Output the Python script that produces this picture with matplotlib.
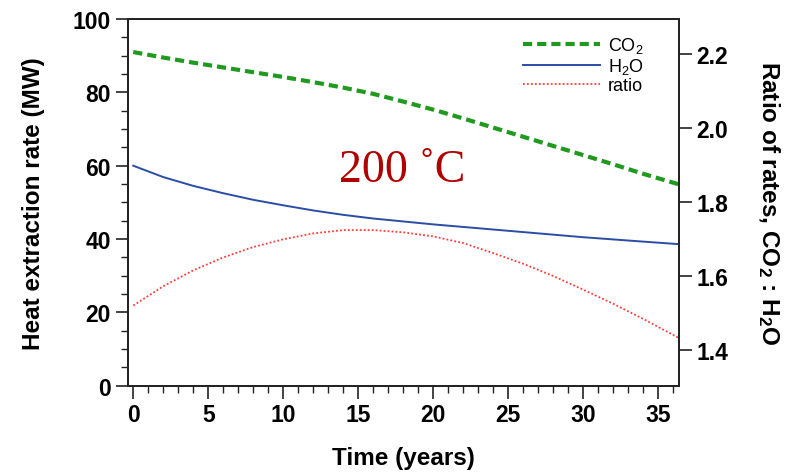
import numpy as np
import matplotlib
matplotlib.use('Agg')
import matplotlib.pyplot as plt
from matplotlib.ticker import MultipleLocator

plt.rcParams['font.family'] = ['Liberation Sans', 'DejaVu Sans']
plt.rcParams['mathtext.fontset'] = 'custom'
plt.rcParams['mathtext.rm'] = 'Liberation Sans'
plt.rcParams['mathtext.bf'] = 'Liberation Sans:bold'
plt.rcParams['mathtext.default'] = 'regular'

# values
years = [0, 2, 4, 6, 8, 10, 12, 14, 16, 18, 20, 22, 24, 26, 28, 30, 32, 34, 36.4]
co2 = [91.0, 89.5, 88.1, 86.8, 85.5, 84.2, 82.8, 81.3, 79.6, 77.5, 75.3,
       72.9, 70.4, 67.9, 65.4, 62.9, 60.4, 57.8, 54.9]
h2o = [60.0, 56.9, 54.5, 52.5, 50.7, 49.2, 47.8, 46.6, 45.6, 44.8, 44.0,
       43.3, 42.6, 41.9, 41.2, 40.5, 39.9, 39.3, 38.6]
ratio = [1.520, 1.572, 1.615, 1.650, 1.678, 1.699, 1.715, 1.724, 1.724, 1.718,
         1.707, 1.689, 1.662, 1.633, 1.600, 1.563, 1.525, 1.484, 1.432]

fig = plt.figure(figsize=(7.98, 4.77), dpi=100)
ax = fig.add_axes([0.1604, 0.1893, 0.6905, 0.7687])
ax2 = ax.twinx()

l1, = ax.plot(years, co2, color='#1f9a1f', lw=3, ls=(0, (2.2, 1.2)), label='CO$_2$')
l2, = ax.plot(years, h2o, color='#2a4ea6', lw=1.4, label='H$_2$O')
l3, = ax2.plot(years, ratio, color='#ff3b3b', lw=1.3, ls=(0, (1, 1.2)), label='ratio')

ax.set_xlim(-0.35, 36.4)
ax.set_ylim(0, 100)
ax2.set_ylim(1.303, 2.295)

ax.xaxis.set_major_locator(MultipleLocator(5))
ax.xaxis.set_minor_locator(MultipleLocator(1))
ax.yaxis.set_major_locator(MultipleLocator(20))
ax.yaxis.set_minor_locator(MultipleLocator(5))
ax2.set_yticks([1.4, 1.6, 1.8, 2.0, 2.2])
ax2.set_yticklabels(['1.4', '1.6', '1.8', '2.0', '2.2'])

for a in (ax, ax2):
    for s in a.spines.values():
        s.set_linewidth(1.3)
        s.set_color('#222222')
    a.tick_params(which='major', length=9, width=1.2, labelsize=16.5, color='#222222')
    a.tick_params(which='minor', length=5, width=1.0, color='#222222')
    for lab in a.get_xticklabels() + a.get_yticklabels():
        lab.set_fontweight('bold')

ax.set_xlabel('Time (years)', fontsize=17.5, fontweight='bold', labelpad=14)
ax.set_ylabel('Heat extraction rate (MW)', fontsize=17.5, fontweight='bold', labelpad=20)
ax2.set_ylabel(r'Ratio of rates, CO$_\mathbf{2}$ : H$_\mathbf{2}$O', fontsize=17.5,
               fontweight='bold', rotation=270, va='bottom', labelpad=20)

ax.text(13.75, 59.0, '200 ˚C', fontsize=33, color='#b00000', va='center',
        family=['Liberation Serif', 'DejaVu Serif'])

ax.legend(handles=[l1, l2, l3], loc='upper right', frameon=False, fontsize=13,
          handlelength=4.3, handletextpad=0.4, labelspacing=0.05,
          bbox_to_anchor=(0.965, 1.0))

fig.savefig('out.png', dpi=100)
